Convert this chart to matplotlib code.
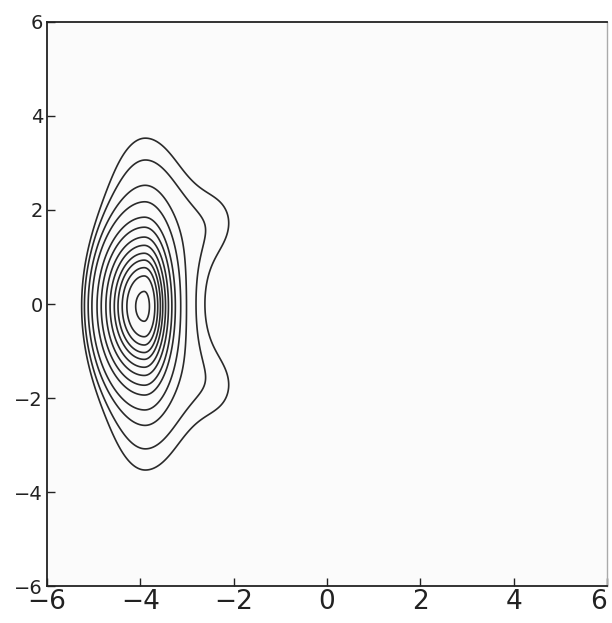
import numpy as np
import matplotlib.pyplot as plt

# axis ticks
x_ticks = [-6, -4, -2, 0, 2, 4, 6]
y_ticks = [-6, -4, -2, 0, 2, 4, 6]

# field made of gaussian pieces: amplitude, centre x, centre y, width left, width right, width y
amps = [1.0, 0.15, 0.05, 0.05]
cen_x = [-3.92, -3.9, -2.1, -2.1]
cen_y = [-0.05, 0.0, 1.8, -1.8]
wid_xl = [0.50, 0.9, 0.6, 0.6]
wid_xr = [0.30, 1.0, 0.45, 0.45]
wid_y = [0.85, 3.0, 0.9, 0.9]

# where the contours cross the line y=0 on the left side (outer -> inner)
left_cross = [-5.26, -5.20, -5.12, -5.04, -4.93, -4.84, -4.74, -4.65, -4.56, -4.48, -4.39, -4.29, -4.10]

xs = np.linspace(-6, 6, 801)
ys = np.linspace(-6, 6, 801)
X, Y = np.meshgrid(xs, ys)


def field(x, y):
    f = np.zeros_like(np.asarray(x, dtype=float))
    for a, cx, cy, sl, sr, sy in zip(amps, cen_x, cen_y, wid_xl, wid_xr, wid_y):
        dx = x - cx
        sx = np.where(dx < 0, sl, sr)
        f = f + a * np.exp(-0.5 * ((dx / sx) ** 2 + ((y - cy) / sy) ** 2))
    return f


Z = field(X, Y)
levels = sorted(field(np.array(left_cross), np.zeros(len(left_cross))))

fig = plt.figure(figsize=(6.12, 6.23), dpi=100)
ax = fig.add_axes([0.077, 0.059, 0.915, 0.906])
ax.set_facecolor("#fbfbfb")

ax.contour(X, Y, Z, levels=levels, colors="#2a2a2a", linewidths=1.2)

ax.set_xlim(-6, 6)
ax.set_ylim(-6, 6)
ax.set_xticks(x_ticks)
ax.set_yticks(y_ticks)
ax.set_xticklabels([str(t).replace("-", "\u2212") for t in x_ticks], fontsize=19)
ax.set_yticklabels([str(t).replace("-", "\u2212") for t in y_ticks], fontsize=14)
ax.tick_params(direction="in", length=6, width=1.0, colors="#222222")
ax.tick_params(axis="x", pad=2)
ax.tick_params(axis="y", pad=3)
ax.get_xticklabels()[-1].set_horizontalalignment("right")
ax.get_xticklabels()[-1].set_x(6.07)

for side in ["left", "bottom", "top"]:
    ax.spines[side].set_linewidth(1.3)
    ax.spines[side].set_color("#222222")
ax.spines["right"].set_color("#aaaaaa")
ax.spines["right"].set_linewidth(1.0)

fig.savefig("out.png", dpi=100)
